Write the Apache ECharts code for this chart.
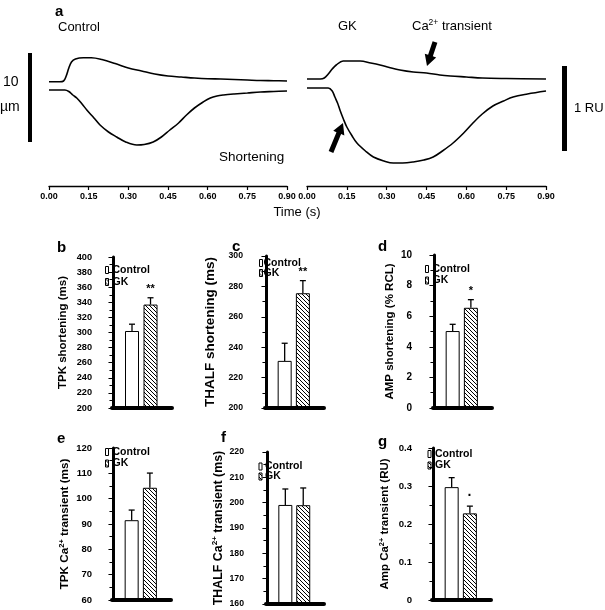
<!DOCTYPE html>
<html><head><meta charset="utf-8">
<script src="https://cdn.jsdelivr.net/npm/echarts@6/dist/echarts.min.js"></script>
<style>html,body{margin:0;padding:0;background:#fff}#c{width:605px;height:610px}</style>
</head><body><div id="c"></div>
<script>
const FONT = 'Liberation Sans, Arial, sans-serif';

// ---------- Panel a: traces (time in s, signal in arbitrary units) ----------
const timeTicks = [0, 0.15, 0.30, 0.45, 0.60, 0.75, 0.90];
const tCtrlCa = [0, 0.04, 0.055, 0.065, 0.075, 0.085, 0.10, 0.13, 0.16, 0.20, 0.25, 0.30, 0.35, 0.40, 0.45, 0.50, 0.55, 0.60, 0.65, 0.70, 0.75, 0.80, 0.85, 0.90];
const vCtrlCa = [104.3, 104.3, 105, 110, 118, 124, 127, 128.3, 128.3, 126.5, 122.5, 118, 115, 112, 110, 109, 108, 107.3, 107, 106.5, 106, 105.5, 105.3, 105];
const tCtrlSh = [0, 0.06, 0.075, 0.09, 0.105, 0.125, 0.143, 0.17, 0.193, 0.225, 0.256, 0.29, 0.332, 0.36, 0.394, 0.425, 0.457, 0.49, 0.52, 0.55, 0.583, 0.61, 0.635, 0.66, 0.70, 0.75, 0.80, 0.85, 0.90];
const vCtrlSh = [96, 96, 94.5, 91, 88, 82, 76, 68, 61, 54, 49, 44, 41, 41.5, 44, 49, 56, 63, 71, 78, 84, 88, 90, 91, 92, 93, 94, 94.5, 95];
const tGkCa = [0, 0.05, 0.065, 0.08, 0.095, 0.11, 0.136, 0.20, 0.24, 0.275, 0.31, 0.35, 0.40, 0.45, 0.50, 0.54, 0.60, 0.66, 0.75, 0.90];
const vGkCa = [107, 107, 108, 112, 117, 121, 125, 125, 123, 121, 118.5, 116, 114, 113, 111, 110, 109, 108, 107.5, 107];
const tGkSh = [0, 0.08, 0.095, 0.105, 0.115, 0.124, 0.137, 0.15, 0.17, 0.188, 0.22, 0.25, 0.29, 0.325, 0.36, 0.40, 0.44, 0.475, 0.51, 0.55, 0.59, 0.625, 0.66, 0.70, 0.74, 0.776, 0.83, 0.90];
const vGkSh = [98, 98, 95, 89, 83, 76, 67, 59, 50, 43, 35, 29, 25, 23, 23, 24, 26, 29, 35, 43, 53, 63, 72, 80, 85, 89, 92, 95];

// ---------- Bar panels (mean and mean+SEM) ----------
const groups = ['Control', 'GK'];
const groupX = [1, 2];
const tpkShortMean = [302, 337];     const tpkShortTop = [311, 346];     const tpkShortSig = ['', '**'];
const thalfShortMean = [231, 275.5]; const thalfShortTop = [242.6, 283.8]; const thalfShortSig = ['', '**'];
const ampShortMean = [5.03, 6.55];   const ampShortTop = [5.47, 7.08];   const ampShortSig = ['', '*'];
const tpkCaMean = [91.5, 104.3];     const tpkCaTop = [95.5, 110.1];     const tpkCaSig = ['', ''];
const thalfCaMean = [199.1, 199];    const thalfCaTop = [205.4, 205.8];  const thalfCaSig = ['', ''];
const ampCaMean = [0.297, 0.228];    const ampCaTop = [0.322, 0.247];    const ampCaSig = ['', '·'];

const ticksB = [200, 220, 240, 260, 280, 300, 320, 340, 360, 380, 400];
const ticksC = [200, 220, 240, 260, 280, 300];
const ticksD = [0, 2, 4, 6, 8, 10];
const ticksE = [60, 70, 80, 90, 100, 110, 120];
const ticksF = [160, 170, 180, 190, 200, 210, 220];
const ticksG = [0, 0.1, 0.2, 0.3, 0.4];

const titleB = 'TPK shortening (ms)';
const titleC = 'THALF shortening (ms)';
const titleD = 'AMP shortening (% RCL)';
const titleE = 'TPK Ca{sup|2+} transient (ms)';
const titleF = 'THALF Ca{sup|2+} transient (ms)';
const titleG = 'Amp Ca{sup|2+} transient (RU)';

// ---------- layout / style ----------
const panels = [
  {letter:'b', lx:57, ly:248, mean:tpkShortMean, top:tpkShortTop, sig:tpkShortSig, ticks:ticksB, title:titleB,
   grid:{left:112, top:257, width:60, height:151}, offset:14, lblSize:9.2, lblMargin:6, nameSize:11.5, nameGap:28.5, lg:{left:105, top:264.5, gap:1, pad:-1}},
  {letter:'c', lx:232, ly:247, mean:thalfShortMean, top:thalfShortTop, sig:thalfShortSig, ticks:ticksC, title:titleC,
   grid:{left:265, top:256, width:59, height:152}, offset:14, lblSize:8.7, lblMargin:8, nameSize:13.5, nameGap:33, lg:{left:259, top:257.5, gap:-1, pad:-4}},
  {letter:'d', lx:378, ly:247, mean:ampShortMean, top:ampShortTop, sig:ampShortSig, ticks:ticksD, title:titleD,
   grid:{left:433, top:255, width:59, height:153}, offset:16, lblSize:10, lblMargin:5, nameSize:11.5, nameGap:19.5, lg:{left:425, top:263.5, gap:0.5, pad:-1}},
  {letter:'e', lx:57, ly:439, mean:tpkCaMean, top:tpkCaTop, sig:tpkCaSig, ticks:ticksE, title:titleE,
   grid:{left:112, top:448, width:59, height:152}, offset:14, lblSize:9.5, lblMargin:6, nameSize:11.7, nameGap:26, lg:{left:105, top:446.5, gap:0.5, pad:-1}},
  {letter:'f', lx:221, ly:438, mean:thalfCaMean, top:thalfCaTop, sig:thalfCaSig, ticks:ticksF, title:titleF,
   grid:{left:266, top:452, width:58, height:152}, offset:13, lblSize:8.7, lblMargin:9, nameSize:12.4, nameGap:26, lg:{left:258.5, top:461, gap:-1, pad:-2}},
  {letter:'g', lx:378, ly:442, mean:ampCaMean, top:ampCaTop, sig:ampCaSig, ticks:ticksG, title:titleG,
   grid:{left:432, top:448, width:59, height:152}, offset:15, lblSize:9.6, lblMargin:5, nameSize:11.5, nameGap:25, lg:{left:427.5, top:448.5, gap:0.5, pad:-1}}
];

function hatch() {
  const s = 4, c = document.createElement('canvas');
  c.width = s; c.height = s;
  const g = c.getContext('2d');
  g.fillStyle = '#fff'; g.fillRect(0, 0, s, s);
  g.strokeStyle = '#000'; g.lineWidth = 1;
  g.beginPath();
  for (let k = -1; k <= 1; k++) { g.moveTo(k * s, 0); g.lineTo(k * s + s, s); }
  g.stroke();
  return c;
}
const hatchFill = {image: hatch(), repeat: 'repeat'};
const ctrlStyle = {color: '#fff', borderColor: '#000', borderWidth: 1};
const gkStyle = {color: hatchFill, borderColor: '#000', borderWidth: 1};

function zip(t, v) { return t.map((x, i) => [x, v[i]]); }

function errRenderer(sig) {
  return function (params, api) {
    const x = api.value(0), lo = api.value(1), hi = api.value(2);
    const p1 = api.coord([x, lo]), p2 = api.coord([x, hi]);
    const cap = 3;
    const st = {stroke: '#000', lineWidth: 1.3};
    const ch = [
      {type: 'line', shape: {x1: p1[0], y1: p1[1], x2: p2[0], y2: p2[1]}, style: st},
      {type: 'line', shape: {x1: p2[0] - cap, y1: p2[1], x2: p2[0] + cap, y2: p2[1]}, style: st}
    ];
    const s = sig[params.dataIndex];
    if (s) ch.push({type: 'text', x: p2[0], y: p2[1] - 3,
      style: {text: s, fill: '#000', fontSize: s === '·' ? 14 : 11, fontWeight: 'bold', fontFamily: FONT, align: 'center', verticalAlign: 'bottom'}});
    return {type: 'group', children: ch};
  };
}

function arrowPts(tail, tip, sw, hw, hl) {
  const dx = tip[0] - tail[0], dy = tip[1] - tail[1], L = Math.hypot(dx, dy);
  const ux = dx / L, uy = dy / L, nx = -uy, ny = ux;
  const bx = tip[0] - ux * hl, by = tip[1] - uy * hl;
  return [[tail[0] + nx * sw / 2, tail[1] + ny * sw / 2], [bx + nx * sw / 2, by + ny * sw / 2],
    [bx + nx * hw / 2, by + ny * hw / 2], tip, [bx - nx * hw / 2, by - ny * hw / 2],
    [bx - nx * sw / 2, by - ny * sw / 2], [tail[0] - nx * sw / 2, tail[1] - ny * sw / 2]];
}

const grid = [], xAxis = [], yAxis = [], series = [], legend = [], graphic = [];
function txt(x, y, text, size, bold, align, rich) {
  graphic.push({type: 'text', x: x, y: y, z: 100,
    style: {text: text, fill: '#000', fontSize: size, fontWeight: bold ? 'bold' : 'normal', fontFamily: FONT,
      align: align || 'left', verticalAlign: 'middle', rich: rich}});
}

// panel a grids
[[49, 238], [307, 239]].forEach(function (g, i) {
  grid.push({left: g[0], top: 40, width: g[1], height: 146});
  xAxis.push({type: 'value', gridIndex: i, min: timeTicks[0], max: timeTicks[timeTicks.length - 1], interval: timeTicks[1] - timeTicks[0],
    axisLine: {show: true, onZero: false, lineStyle: {color: '#000', width: 1.3}},
    axisTick: {show: true, length: 4, lineStyle: {color: '#000', width: 1.2}},
    axisLabel: {color: '#000', fontSize: 9, fontWeight: 'bold', fontFamily: FONT, margin: 6.5, formatter: v => v.toFixed(2)},
    splitLine: {show: false}});
  yAxis.push({type: 'value', gridIndex: i, min: 0, max: 146, show: false});
});
const lineSt = {color: '#000', width: 1.6};
[[0, tCtrlCa, vCtrlCa], [0, tCtrlSh, vCtrlSh], [1, tGkCa, vGkCa], [1, tGkSh, vGkSh]].forEach(function (s) {
  series.push({type: 'line', xAxisIndex: s[0], yAxisIndex: s[0], data: zip(s[1], s[2]), showSymbol: false, symbol: 'none',
    smooth: 0.35, lineStyle: lineSt, silent: true});
});

const supRich = function (size) {
  return {sup: {fontSize: size * 0.65, fontWeight: 'bold', fontFamily: FONT, color: '#000', verticalAlign: 'top', padding: [0, 0, size * 0.45, 0]}};
};

panels.forEach(function (p, k) {
  const gi = k + 2;
  grid.push(p.grid);
  xAxis.push({type: 'value', gridIndex: gi, min: -0.08, max: 3.16, z: 10,
    axisLine: {show: true, onZero: false, lineStyle: {color: '#000', width: 4}},
    axisTick: {show: false}, axisLabel: {show: false}, splitLine: {show: false}});
  const t = p.ticks;
  yAxis.push({type: 'value', gridIndex: gi, min: t[0], max: t[t.length - 1], interval: t[1] - t[0], offset: p.offset, z: 10,
    axisLine: {show: true, lineStyle: {color: '#000', width: 3}},
    axisTick: {show: true, length: 5, lineStyle: {color: '#000', width: 1}},
    minorTick: {show: true, splitNumber: 2, length: 4, lineStyle: {color: '#000', width: 1}},
    axisLabel: {color: '#000', fontSize: p.lblSize, fontWeight: 'bold', fontFamily: FONT, margin: p.lblMargin},
    splitLine: {show: false}, minorSplitLine: {show: false},
    name: p.title, nameLocation: 'middle', nameRotate: 90, nameGap: p.nameGap,
    nameTextStyle: {color: '#000', fontSize: p.nameSize, fontWeight: 'bold', fontFamily: FONT, lineHeight: p.nameSize * 1.2, rich: supRich(p.nameSize)}});
  series.push({name: groups[0], type: 'bar', xAxisIndex: gi, yAxisIndex: gi, barWidth: 14, barGap: '-100%', data: [[groupX[0], p.mean[0]]], itemStyle: ctrlStyle, silent: true});
  series.push({name: groups[1], type: 'bar', xAxisIndex: gi, yAxisIndex: gi, barWidth: 14, barGap: '-100%', data: [[groupX[1], p.mean[1]]], itemStyle: gkStyle, silent: true});
  series.push({name: 'sem' + p.letter, type: 'custom', xAxisIndex: gi, yAxisIndex: gi, z: 5, silent: true,
    data: groupX.map((x, i) => [x, p.mean[i], p.top[i]]), renderItem: errRenderer(p.sig)});
  legend.push({left: p.lg.left, top: p.lg.top, orient: 'vertical', padding: 0, itemGap: p.lg.gap, itemWidth: 3, itemHeight: 7,
    selectedMode: false, icon: 'rect',
    textStyle: {color: '#000', fontSize: 10.5, fontWeight: 'bold', fontFamily: FONT, lineHeight: 11, padding: [0, 0, 0, p.lg.pad]},
    data: [{name: groups[0], itemStyle: ctrlStyle}, {name: groups[1], itemStyle: {color: hatchFill, borderColor: '#000', borderWidth: 1}}]});
  txt(p.lx, p.ly, p.letter, 15, true);
});

// panel a annotations
txt(55, 12, 'a', 15, true);
txt(58, 27, 'Control', 13, false);
txt(338, 26, 'GK', 13, false);
txt(412, 26, 'Ca{sup|2+} transient', 13, false, 'left', {sup: {fontSize: 8.5, fontFamily: FONT, fill: '#000', verticalAlign: 'top', padding: [0, 0, 6, 0]}});
txt(219, 157, 'Shortening', 13.5, false);
txt(3, 82, '10', 14, false);
txt(0, 107, 'µm', 14, false);
txt(574, 108, '1 RU', 13, false);
txt(297, 212, 'Time (s)', 13, false, 'center');
graphic.push({type: 'rect', shape: {x: 28, y: 53, width: 4, height: 89}, style: {fill: '#000'}});
graphic.push({type: 'rect', shape: {x: 562, y: 66, width: 5, height: 85}, style: {fill: '#000'}});
graphic.push({type: 'polygon', shape: {points: arrowPts([435, 42], [427, 66], 5, 12, 11)}, style: {fill: '#000'}});
graphic.push({type: 'polygon', shape: {points: arrowPts([331, 152], [343, 123], 5, 12, 11)}, style: {fill: '#000'}});

const chart = echarts.init(document.getElementById('c'), null, {renderer: 'canvas'});
chart.setOption({backgroundColor: '#fff', animation: false, grid, xAxis, yAxis, series, legend, graphic});
</script></body></html>
